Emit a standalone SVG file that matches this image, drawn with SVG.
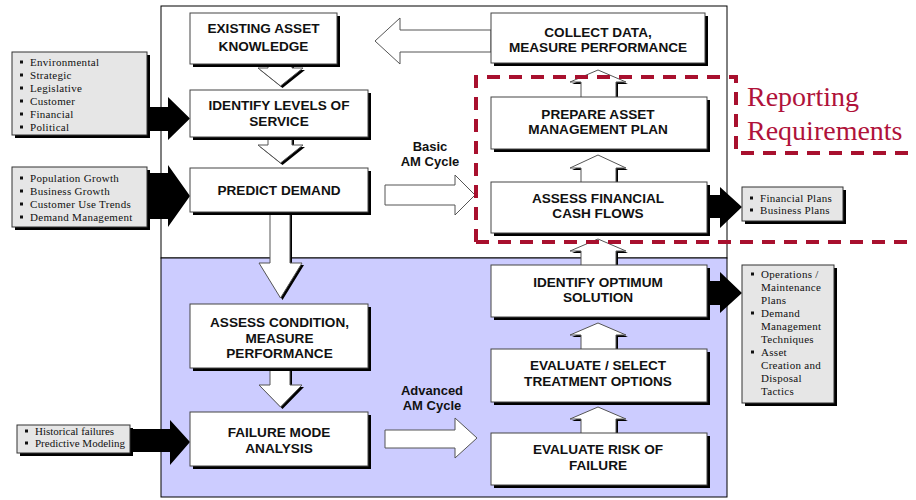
<svg xmlns="http://www.w3.org/2000/svg" width="916" height="500" viewBox="0 0 916 500">
<style>
.bx{fill:#fff;stroke:#444;stroke-width:1}
.sh{fill:#000}
.gb{fill:#e6e6e6;stroke:#333;stroke-width:1}
.ha{fill:#fff;stroke:#555;stroke-width:1}
.ba{fill:#000}
.t{font-family:"Liberation Sans",Arial,sans-serif;font-weight:bold;font-size:13.6px;fill:#111;text-anchor:middle}
.lb{font-family:"Liberation Sans",Arial,sans-serif;font-weight:bold;font-size:13px;fill:#111;text-anchor:middle}
.bt{font-family:"Liberation Serif","Times New Roman",serif;font-size:11px;fill:#111;letter-spacing:0.3px}
.bt0{letter-spacing:0}
.bu{fill:#111}
.rr{font-family:"Liberation Serif","Times New Roman",serif;font-size:28px;fill:#b0123a}
.dash{fill:none;stroke:#a8102e;stroke-width:4;stroke-dasharray:13 9}
</style>
<rect width="916" height="500" fill="#fff"/>
<g id="frame">
<rect x="161" y="6" width="566" height="252" fill="#fff" stroke="#000" stroke-width="1"/>
<rect x="161" y="258" width="566" height="239" fill="#ccccff" stroke="#000" stroke-width="1"/>
</g>
<g id="connectors">
<polygon class="sh" transform="translate(2,2)" points="268,60 292,60 292,68 303,68 280.5,86 258,68 268,68"/>
<polygon class="ha" points="268,60 292,60 292,68 303,68 280.5,86 258,68 268,68"/>
<polygon class="sh" transform="translate(2,2)" points="268,134 292,134 292,145 303,145 280.5,163 258,145 268,145"/>
<polygon class="ha" points="268,134 292,134 292,145 303,145 280.5,163 258,145 268,145"/>
<polygon class="sh" transform="translate(2,2)" points="270,208 290,208 290,263 302,263 280.5,298 259,263 270,263"/>
<polygon class="ha" points="270,208 290,208 290,263 302,263 280.5,298 259,263 270,263"/>
<polygon class="sh" transform="translate(2,2)" points="270,364 290,364 290,385 302,385 280.5,407 259,385 270,385"/>
<polygon class="ha" points="270,364 290,364 290,385 302,385 280.5,407 259,385 270,385"/>
<polygon class="sh" transform="translate(2,2)" points="581,100 581,82 570,82 598,70 626,82 616,82 616,100"/>
<polygon class="ha" points="581,100 581,82 570,82 598,70 626,82 616,82 616,100"/>
<polygon class="sh" transform="translate(2,2)" points="581,185 581,168 570,168 598,155 626,168 616,168 616,185"/>
<polygon class="ha" points="581,185 581,168 570,168 598,155 626,168 616,168 616,185"/>
<polygon class="sh" transform="translate(2,2)" points="581,268 581,251 570,251 598,239 626,251 616,251 616,268"/>
<polygon class="ha" points="581,268 581,251 570,251 598,239 626,251 616,251 616,268"/>
<polygon class="sh" transform="translate(2,2)" points="581,352 581,335 570,335 598,323 626,335 616,335 616,352"/>
<polygon class="ha" points="581,352 581,335 570,335 598,323 626,335 616,335 616,352"/>
<polygon class="sh" transform="translate(2,2)" points="581,436 581,419 570,419 598,407 626,419 616,419 616,436"/>
<polygon class="ha" points="581,436 581,419 570,419 598,407 626,419 616,419 616,436"/>
<polygon class="ha" points="491,30 400,30 400,18 375,41 400,64 400,52 491,52"/>
<polygon class="ha" points="385,185 455,185 455,175 475,195 455,215 455,205 385,205"/>
<polygon class="ha" points="385,430 455,430 455,418 477,438 455,458 455,448 385,448"/>
<polygon class="ba" points="147,107 168,107 168,97 190,118.5 168,140 168,131 147,131"/>
<polygon class="ba" points="147,173 168,173 168,165 190,196 168,227 168,219 147,219"/>
<polygon class="ba" points="130,429 170,429 170,420 190,442 170,465 170,452 130,452"/>
<polygon class="ba" points="707,195 720,195 720,187 742,207 720,228 720,218 707,218"/>
<polygon class="ba" points="707,281 720,281 720,272 742,293 720,313 720,305 707,305"/>
</g>
<text class="lb" x="430" y="151">Basic</text>
<text class="lb" x="430" y="166">AM Cycle</text>
<text class="lb" x="432" y="395">Advanced</text>
<text class="lb" x="432" y="410">AM Cycle</text>
<g id="n-existing">
<rect class="sh" x="193" y="16" width="147" height="51"/>
<rect class="bx" x="190" y="13" width="147" height="51"/>
<text class="t" x="263.5" y="33">EXISTING ASSET</text>
<text class="t" x="263.5" y="51">KNOWLEDGE</text>
</g>
<g id="n-identify-levels">
<rect class="sh" x="193" y="93" width="178" height="47"/>
<rect class="bx" x="190" y="90" width="178" height="47"/>
<text class="t" x="279" y="110">IDENTIFY LEVELS OF</text>
<text class="t" x="279" y="126">SERVICE</text>
</g>
<g id="n-predict">
<rect class="sh" x="193" y="171" width="178" height="44"/>
<rect class="bx" x="190" y="168" width="178" height="44"/>
<text class="t" x="279" y="195">PREDICT DEMAND</text>
</g>
<g id="n-assess-condition">
<rect class="sh" x="193" y="307" width="178" height="64"/>
<rect class="bx" x="190" y="304" width="178" height="64"/>
<text class="t" x="279.5" y="327">ASSESS CONDITION,</text>
<text class="t" x="279.5" y="343">MEASURE</text>
<text class="t" x="279.5" y="358">PERFORMANCE</text>
</g>
<g id="n-failure">
<rect class="sh" x="193" y="415" width="178" height="54"/>
<rect class="bx" x="190" y="412" width="178" height="54"/>
<text class="t" x="279" y="437">FAILURE MODE</text>
<text class="t" x="279" y="453">ANALYSIS</text>
</g>
<g id="n-collect">
<rect class="sh" x="494" y="16" width="214" height="50"/>
<rect class="bx" x="491" y="13" width="214" height="50"/>
<text class="t" x="598" y="37">COLLECT DATA,</text>
<text class="t" x="598" y="52">MEASURE PERFORMANCE</text>
</g>
<g id="n-prepare">
<rect class="sh" x="494" y="100" width="216" height="52"/>
<rect class="bx" x="491" y="97" width="216" height="52"/>
<text class="t" x="598" y="119">PREPARE ASSET</text>
<text class="t" x="598" y="134">MANAGEMENT PLAN</text>
</g>
<g id="n-financial">
<rect class="sh" x="494" y="185" width="216" height="51"/>
<rect class="bx" x="491" y="182" width="216" height="51"/>
<text class="t" x="598" y="203">ASSESS FINANCIAL</text>
<text class="t" x="598" y="218">CASH FLOWS</text>
</g>
<g id="n-optimum">
<rect class="sh" x="494" y="268" width="216" height="52"/>
<rect class="bx" x="491" y="265" width="216" height="52"/>
<text class="t" x="598" y="287">IDENTIFY OPTIMUM</text>
<text class="t" x="598" y="302">SOLUTION</text>
</g>
<g id="n-evaluate-select">
<rect class="sh" x="494" y="352" width="216" height="53"/>
<rect class="bx" x="491" y="349" width="216" height="53"/>
<text class="t" x="598" y="370">EVALUATE / SELECT</text>
<text class="t" x="598" y="386">TREATMENT OPTIONS</text>
</g>
<g id="n-evaluate-risk">
<rect class="sh" x="494" y="436" width="216" height="52"/>
<rect class="bx" x="491" y="433" width="216" height="52"/>
<text class="t" x="598" y="454">EVALUATE RISK OF</text>
<text class="t" x="598" y="470">FAILURE</text>
</g>
<g id="in-service-drivers">
<rect class="sh" x="15" y="55" width="135" height="83"/>
<rect class="gb" x="12" y="52" width="135" height="83"/>
<rect class="bu" x="20" y="60.5" width="3" height="3"/>
<rect class="bu" x="20" y="73.5" width="3" height="3"/>
<rect class="bu" x="20" y="86.5" width="3" height="3"/>
<rect class="bu" x="20" y="99.5" width="3" height="3"/>
<rect class="bu" x="20" y="112.5" width="3" height="3"/>
<rect class="bu" x="20" y="125.5" width="3" height="3"/>
<text class="bt" x="30" y="66">Environmental</text>
<text class="bt" x="30" y="79">Strategic</text>
<text class="bt" x="30" y="92">Legislative</text>
<text class="bt" x="30" y="105">Customer</text>
<text class="bt" x="30" y="118">Financial</text>
<text class="bt" x="30" y="131">Political</text>
</g>
<g id="in-demand-drivers">
<rect class="sh" x="15" y="170" width="135" height="60"/>
<rect class="gb" x="12" y="167" width="135" height="60"/>
<rect class="bu" x="20" y="176.5" width="3" height="3"/>
<rect class="bu" x="20" y="189.5" width="3" height="3"/>
<rect class="bu" x="20" y="202.5" width="3" height="3"/>
<rect class="bu" x="20" y="215.5" width="3" height="3"/>
<text class="bt" x="30" y="182">Population Growth</text>
<text class="bt" x="30" y="195">Business Growth</text>
<text class="bt" x="30" y="208">Customer Use Trends</text>
<text class="bt" x="30" y="221">Demand Management</text>
</g>
<g id="in-failure-data">
<rect class="sh" x="20" y="428" width="113" height="28"/>
<rect class="gb" x="17" y="425" width="113" height="28"/>
<rect class="bu" x="25" y="429.5" width="3" height="3"/>
<rect class="bu" x="25" y="441.5" width="3" height="3"/>
<text class="bt bt0" x="35" y="435">Historical failures</text>
<text class="bt bt0" x="35" y="447">Predictive Modeling</text>
</g>
<g id="out-plans">
<rect class="sh" x="745" y="190" width="101" height="34"/>
<rect class="gb" x="742" y="187" width="101" height="34"/>
<rect class="bu" x="750" y="196.5" width="3" height="3"/>
<rect class="bu" x="750" y="208.5" width="3" height="3"/>
<text class="bt" x="760" y="202">Financial Plans</text>
<text class="bt" x="760" y="214">Business Plans</text>
</g>
<g id="out-operations">
<rect class="sh" x="745" y="268" width="92" height="138"/>
<rect class="gb" x="742" y="265" width="92" height="138"/>
<rect class="bu" x="751" y="272.5" width="3" height="3"/>
<rect class="bu" x="751" y="311.5" width="3" height="3"/>
<rect class="bu" x="751" y="350.5" width="3" height="3"/>
<text class="bt" x="761" y="278">Operations /</text>
<text class="bt" x="761" y="291">Maintenance</text>
<text class="bt" x="761" y="304">Plans</text>
<text class="bt" x="761" y="317">Demand</text>
<text class="bt" x="761" y="330">Management</text>
<text class="bt" x="761" y="343">Techniques</text>
<text class="bt" x="761" y="356">Asset</text>
<text class="bt" x="761" y="369">Creation and</text>
<text class="bt" x="761" y="382">Disposal</text>
<text class="bt" x="761" y="395">Tactics</text>
</g>
<g id="reporting">
<path class="dash" d="M476,242 L476,77 L736,77 L736,153 L916,153 M476,242 L916,242"/>
<text class="rr" x="747" y="106">Reporting</text>
<text class="rr" x="747" y="140">Requirements</text>
</g>
</svg>
